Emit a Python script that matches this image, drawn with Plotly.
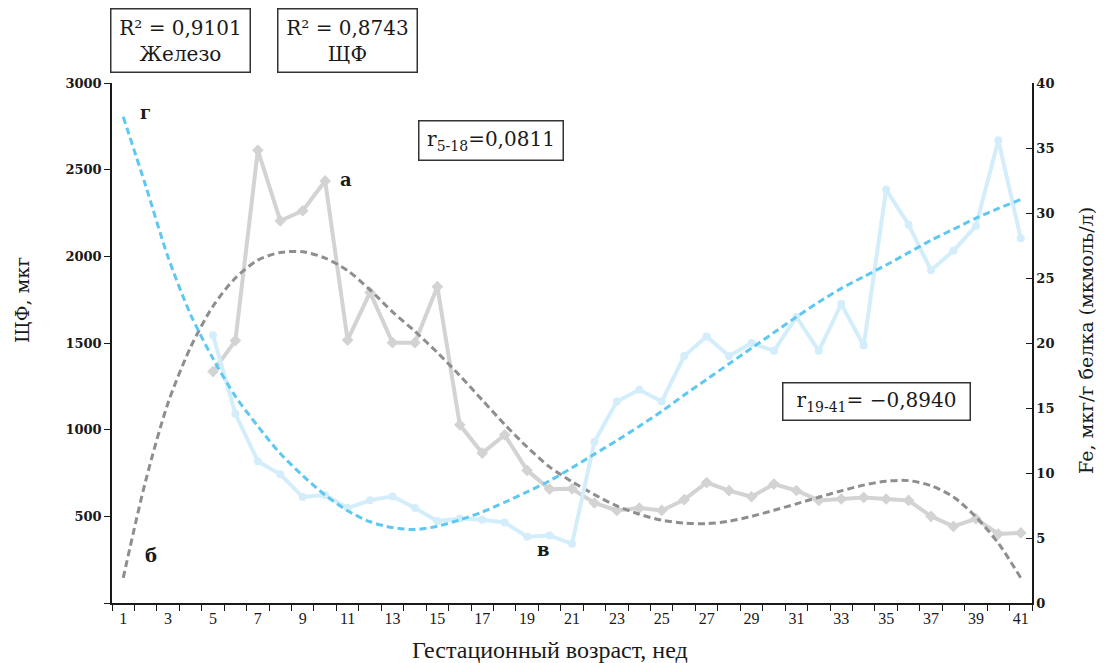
import plotly.graph_objects as go

# ---- data ----
weeks = list(range(5, 42))
shf_values = [1335, 1514, 2612, 2205, 2263, 2435, 1517, 1792, 1502, 1502, 1825, 1028, 865, 970, 765,
              657, 659, 577, 534, 548, 534, 596, 695, 648, 613, 686, 649, 592, 600, 609, 600, 592,
              500, 442, 486, 398, 404]
fe_values = [20.6, 14.55, 10.9, 9.9, 8.15, 8.3, 7.3, 7.9, 8.2, 7.3, 6.3, 6.5, 6.4, 6.2, 5.1, 5.2,
             4.55, 12.4, 15.5, 16.4, 15.5, 19.0, 20.5, 19.0, 20.0, 19.4, 22.0, 19.4, 23.0, 19.8,
             31.8, 29.1, 25.6, 27.1, 29.0, 35.6, 28.05]

trend_weeks = list(range(1, 42))
shf_trend = [145, 705, 1155, 1475, 1712, 1875, 1978, 2022, 2026, 1990, 1918, 1806, 1680, 1567, 1445,
             1312, 1171, 1030, 900, 785, 700, 625, 560, 512, 478, 461, 458, 472, 500, 535, 572, 610,
             647, 680, 703, 706, 677, 612, 497, 345, 145]
fe_trend = [37.4, 32.1, 26.6, 22.2, 18.8, 15.9, 13.6, 11.5, 9.8, 8.3, 7.1, 6.25, 5.8, 5.65, 5.9,
            6.4, 7.0, 7.75, 8.55, 9.4, 10.4, 11.45, 12.5, 13.6, 14.75, 16.0, 17.2, 18.4, 19.6, 20.8,
            22.0, 23.15, 24.2, 25.1, 26.0, 26.95, 27.9, 28.75, 29.6, 30.35, 31.04]

x_tick_labels = [str(w) for w in range(1, 42, 2)]
x_boundaries = [w + 0.5 for w in range(0, 42)]
shf_ticks = [0, 500, 1000, 1500, 2000, 2500, 3000]
fe_ticks = [0, 5, 10, 15, 20, 25, 30, 35, 40]

SERIF = "DejaVu Serif"
SERIF2 = "Liberation Serif"

fig = go.Figure()

fig.add_trace(go.Scatter(
    x=weeks, y=shf_values, mode="lines+markers", yaxis="y",
    line=dict(color="#d3d3d3", width=4),
    marker=dict(symbol="diamond", size=9, color="#d3d3d3"),
    showlegend=False, hoverinfo="skip"))
fig.add_trace(go.Scatter(
    x=weeks, y=fe_values, mode="lines+markers", yaxis="y2",
    line=dict(color="#d3eefa", width=4),
    marker=dict(symbol="circle", size=8, color="#d3eefa"),
    showlegend=False, hoverinfo="skip"))
fig.add_trace(go.Scatter(
    x=trend_weeks, y=shf_trend, mode="lines", yaxis="y",
    line=dict(color="#8e8e90", width=3, dash="7px,4px", shape="spline", smoothing=0.8),
    showlegend=False, hoverinfo="skip"))
fig.add_trace(go.Scatter(
    x=trend_weeks, y=fe_trend, mode="lines", yaxis="y2",
    line=dict(color="#5ec8f2", width=3, dash="7px,4px", shape="spline", smoothing=0.8),
    showlegend=False, hoverinfo="skip"))

fig.update_layout(
    width=1104, height=663,
    margin=dict(l=112, r=72, t=83, b=60),
    paper_bgcolor="white", plot_bgcolor="white",
    font=dict(family=SERIF, color="#1a1a1a"),
    xaxis=dict(
        range=[0.5, 41.5], showgrid=False, zeroline=False,
        showline=True, linecolor="#1a1a1a", linewidth=1.5,
        tickmode="array", tickvals=list(range(1, 42, 2)), ticktext=x_tick_labels,
        ticks="outside", ticklen=0, tickcolor="rgba(0,0,0,0)",
        tickfont=dict(family=SERIF2, size=16, color="#1a1a1a"),
        minor=dict(tickmode="array", tickvals=x_boundaries, ticks="outside",
                   ticklen=6, tickwidth=1, tickcolor="#1a1a1a", showgrid=False),
    ),
    xaxis2=dict(
        range=[0.5, 41.5], overlaying="x", anchor="y", side="bottom",
        showgrid=False, zeroline=False, showline=False, showticklabels=False,
        tickmode="array", tickvals=x_boundaries,
        ticks="inside", ticklen=5, tickwidth=1, tickcolor="#1a1a1a",
    ),
    yaxis=dict(
        range=[0, 3000], showgrid=False, zeroline=False,
        showline=True, linecolor="#1a1a1a", linewidth=1.5,
        tickmode="array", tickvals=shf_ticks,
        ticktext=["" if v == 0 else str(v) for v in shf_ticks],
        ticks="outside", ticklen=6, tickwidth=1, tickcolor="#1a1a1a",
        tickfont=dict(family=SERIF, size=13, color="#1a1a1a", weight="bold"),
    ),
    yaxis2=dict(
        range=[0, 40], overlaying="y", side="right", showgrid=False, zeroline=False,
        showline=True, linecolor="#1a1a1a", linewidth=1.5,
        tickmode="array", tickvals=fe_ticks, ticktext=[str(v) for v in fe_ticks],
        ticks="inside", ticklen=6, tickwidth=1, tickcolor="#1a1a1a",
        tickfont=dict(family=SERIF, size=13, color="#1a1a1a", weight="bold"),
    ),
)

def paper_x(px):
    return (px - 112) / 920.0

def paper_y(py):
    return (603.4 - py) / 520.7

annotations = []
box_font = dict(family=SERIF, size=20, color="#1a1a1a")
annotations.append(dict(xref="paper", yref="paper", x=paper_x(180), y=paper_y(40),
                        text="R² = 0,9101<br>Железо", showarrow=False,
                        font=box_font, bordercolor="#333", borderwidth=1.5, borderpad=2,
                        width=134, height=58, xanchor="center", yanchor="middle", align="center"))
annotations.append(dict(xref="paper", yref="paper", x=paper_x(347), y=paper_y(40),
                        text="R² = 0,8743<br>ЩФ", showarrow=False,
                        font=box_font, bordercolor="#333", borderwidth=1.5, borderpad=2,
                        width=134, height=58, xanchor="center", yanchor="middle", align="center"))
annotations.append(dict(xref="paper", yref="paper", x=paper_x(490.5), y=paper_y(140),
                        text="r<sub>5-18</sub>=0,0811", showarrow=False,
                        font=box_font, bordercolor="#333", borderwidth=1.5, borderpad=2,
                        width=139, height=34, xanchor="center", yanchor="middle"))
annotations.append(dict(xref="paper", yref="paper", x=paper_x(876), y=paper_y(401.5),
                        text="r<sub>19-41</sub>= \u22120,8940", showarrow=False,
                        font=box_font, bordercolor="#333", borderwidth=1.5, borderpad=2,
                        width=182, height=32, xanchor="center", yanchor="middle"))
letter_font = dict(family=SERIF, size=18, color="#1a1a1a", weight="bold")
for txt, px, py in [("г", 145, 112), ("а", 346, 179), ("б", 151, 556), ("в", 543, 550)]:
    annotations.append(dict(xref="paper", yref="paper", x=paper_x(px), y=paper_y(py),
                            text=txt, showarrow=False, font=letter_font,
                            xanchor="center", yanchor="middle"))
annotations.append(dict(xref="paper", yref="paper", x=paper_x(22), y=paper_y(300),
                        text="ЩФ, мкг", textangle=-90, showarrow=False,
                        font=dict(family=SERIF, size=19, color="#1a1a1a"),
                        xanchor="center", yanchor="middle"))
annotations.append(dict(xref="paper", yref="paper", x=paper_x(1086), y=paper_y(341),
                        text="Fe, мкг/г белка (мкмоль/л)", textangle=-90, showarrow=False,
                        font=dict(family=SERIF, size=19, color="#1a1a1a"),
                        xanchor="center", yanchor="middle"))
annotations.append(dict(xref="paper", yref="paper", x=paper_x(550), y=paper_y(650),
                        text="Гестационный возраст, нед", showarrow=False,
                        font=dict(family=SERIF2, size=24, color="#1a1a1a"),
                        xanchor="center", yanchor="middle"))

fig.update_layout(annotations=annotations)

fig.write_html("out.html", config={"displayModeBar": False},
               post_script="document.body.style.margin='0';document.body.style.padding='0';")
